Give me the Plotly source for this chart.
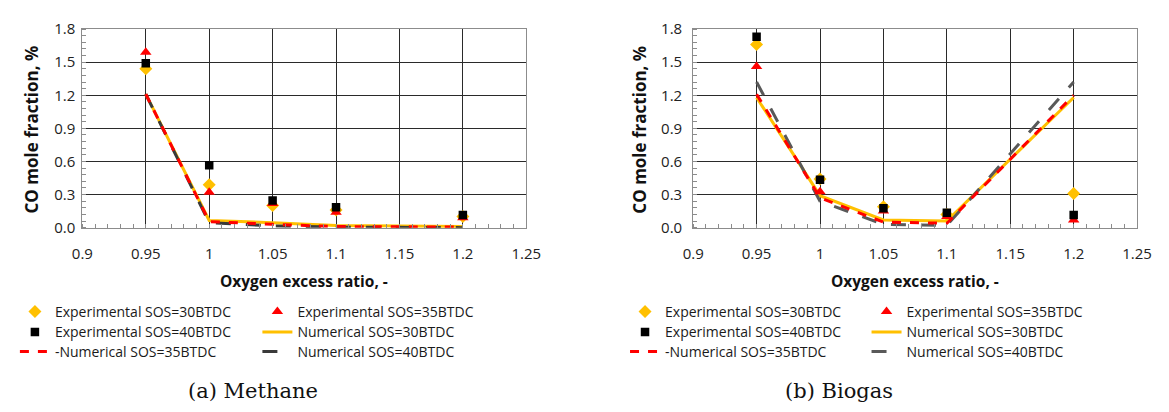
import plotly.graph_objects as go

x = [0.95, 1.0, 1.05, 1.1, 1.2]

# Methane
m_exp30 = [1.44, 0.39, 0.20, 0.16, 0.10]
m_exp35 = [1.59, 0.32, 0.22, 0.14, 0.09]
m_exp40 = [1.49, 0.565, 0.245, 0.185, 0.115]
m_num30 = [1.21, 0.065, 0.045, 0.02, 0.01]
m_num35 = [1.21, 0.055, 0.03, 0.01, 0.005]
m_num40 = [1.21, 0.045, 0.015, 0.005, 0.0]

# Biogas
b_exp30 = [1.66, 0.44, 0.19, 0.12, 0.31]
b_exp35 = [1.46, 0.325, 0.15, 0.10, 0.07]
b_exp40 = [1.73, 0.435, 0.175, 0.135, 0.115]
b_num30 = [1.18, 0.29, 0.07, 0.06, 1.18]
b_num35 = [1.21, 0.27, 0.05, 0.04, 1.20]
b_num40 = [1.32, 0.24, 0.03, 0.02, 1.32]

names = ["Experimental SOS=30BTDC", "Experimental SOS=35BTDC", "Experimental SOS=40BTDC",
         "Numerical SOS=30BTDC", "-Numerical SOS=35BTDC", "Numerical SOS=40BTDC"]

xticks = [0.9, 0.95, 1.0, 1.05, 1.1, 1.15, 1.2, 1.25]
xticklabels = ["0.9", "0.95", "1", "1.05", "1.1", "1.15", "1.2", "1.25"]
yticks = [0.0, 0.3, 0.6, 0.9, 1.2, 1.5, 1.8]
yticklabels = ["0.0", "0.3", "0.6", "0.9", "1.2", "1.5", "1.8"]

GOLD = "#FFC000"
RED = "#FF0000"
BLACK = "#000000"
GRAY = "#595959"
FONT = "Open Sans"
W, H = 1169, 412

fig = go.Figure()

def add_panel(xa, ya, exp30, exp35, exp40, num30, num35, num40, lg, num40_color):
    # lg: legend ids in order Exp30, Exp35, Exp40, Num30, Num35, Num40
    fig.add_trace(go.Scatter(x=x, y=num30, mode="lines", name=names[3], xaxis=xa, yaxis=ya,
                             line=dict(color=GOLD, width=3), legend=lg[3]))
    fig.add_trace(go.Scatter(x=x, y=num40, mode="lines", name=names[5], xaxis=xa, yaxis=ya,
                             line=dict(color=num40_color, width=3, dash="longdash"), legend=lg[5]))
    fig.add_trace(go.Scatter(x=x, y=num35, mode="lines", name=names[4], xaxis=xa, yaxis=ya,
                             line=dict(color=RED, width=3, dash="dash"), legend=lg[4]))
    fig.add_trace(go.Scatter(x=x, y=exp30, mode="markers", name=names[0], xaxis=xa, yaxis=ya,
                             marker=dict(symbol="diamond", color=GOLD, size=10), legend=lg[0]))
    fig.add_trace(go.Scatter(x=x, y=exp35, mode="markers", name=names[1], xaxis=xa, yaxis=ya,
                             marker=dict(symbol="triangle-up", color=RED, size=10), legend=lg[1]))
    fig.add_trace(go.Scatter(x=x, y=exp40, mode="markers", name=names[2], xaxis=xa, yaxis=ya,
                             marker=dict(symbol="square", color=BLACK, size=8.5), legend=lg[2]))

left_lg = ["legend", "legend2", "legend3", "legend4", "legend5", "legend6"]
right_lg = ["legend7", "legend8", "legend9", "legend10", "legend11", "legend12"]
add_panel("x", "y", m_exp30, m_exp35, m_exp40, m_num30, m_num35, m_num40, left_lg, "#3a3a3a")
add_panel("x2", "y2", b_exp30, b_exp35, b_exp40, b_num30, b_num35, b_num40, right_lg, GRAY)

ydom = [1 - 227.7 / H, 1 - 19 / H]

def xaxis_cfg(dom, anchor):
    return dict(domain=dom, anchor=anchor, range=[0.9, 1.25], tickvals=xticks, ticktext=xticklabels,
                showgrid=True, gridcolor="#2a2a2a", gridwidth=1, zeroline=False,
                showline=True, linecolor="#8c8c8c", linewidth=1, mirror=True,
                ticks="", ticklabelstandoff=12, tickfont=dict(family=FONT, size=15, color="#222"),
                minor=dict(dtick=0.01, ticks="inside", ticklen=4, tickcolor="#8c8c8c", showgrid=False))

def yaxis_cfg(anchor, standoff):
    return dict(domain=ydom, anchor=anchor, range=[0, 1.8], tickvals=yticks, ticktext=yticklabels,
                showgrid=True, gridcolor="#2a2a2a", gridwidth=1, zeroline=False,
                showline=True, linecolor="#8c8c8c", linewidth=1, mirror=True,
                ticks="", ticklabelstandoff=standoff, tickfont=dict(family=FONT, size=15, color="#222"),
                minor=dict(dtick=0.06, ticks="inside", ticklen=4, tickcolor="#8c8c8c", showgrid=False))

legend_common = dict(orientation="v", bgcolor="rgba(0,0,0,0)", font=dict(family=FONT, size=14, color="#1a1a1a"),
                     itemwidth=30, xanchor="left", yanchor="top", itemclick=False, itemdoubleclick=False)

col_x = {"L1": 4, "L2": 252, "R1": 628, "R2": 875}
row_y = [299.5, 321, 341.5]
layout_legends = {}
grid = [("L1", 0), ("L2", 0), ("L1", 1), ("L2", 1), ("L1", 2), ("L2", 2)]
for ids, side in ((left_lg, "L"), (right_lg, "R")):
    for lid, (c, r) in zip(ids, grid):
        col = side + c[1]
        layout_legends[lid] = dict(x=col_x[col] / W, y=1 - row_y[r] / H, **legend_common)

title_font = dict(family=FONT, size=17, color="#111")
xtitle_font = dict(family=FONT, size=15.5, color="#111")
cap_font = dict(family="DejaVu Serif", size=21, color="#111")
fig.update_layout(
    width=W, height=H, margin=dict(l=0, r=0, t=0, b=0),
    paper_bgcolor="white", plot_bgcolor="white",
    xaxis=xaxis_cfg([73 / W, 527 / W], "y"),
    yaxis=yaxis_cfg("x", 3),
    xaxis2=xaxis_cfg([697.7 / W, 1151.7 / W], "y2"),
    yaxis2=yaxis_cfg("x2", 7),
    showlegend=True,
    annotations=[
        dict(text="<b>Oxygen excess ratio, -</b>", x=300 / W, y=1 - 284 / H, xref="paper", yref="paper",
             showarrow=False, xanchor="center", yanchor="middle", font=xtitle_font),
        dict(text="<b>Oxygen excess ratio, -</b>", x=924.7 / W, y=1 - 284 / H, xref="paper", yref="paper",
             showarrow=False, xanchor="center", yanchor="middle", font=xtitle_font),
        dict(text="<b>CO mole fraction, %</b>", x=21 / W, y=1 - 125 / H, xref="paper", yref="paper",
             showarrow=False, xanchor="center", yanchor="middle", textangle=-90, font=title_font),
        dict(text="<b>CO mole fraction, %</b>", x=643 / W, y=1 - 125 / H, xref="paper", yref="paper",
             showarrow=False, xanchor="center", yanchor="middle", textangle=-90, font=title_font),
        dict(text="(a) Methane", x=248 / W, y=1 - 399 / H, xref="paper", yref="paper", showarrow=False,
             xanchor="center", yanchor="middle", font=cap_font),
        dict(text="(b) Biogas", x=847 / W, y=1 - 399 / H, xref="paper", yref="paper", showarrow=False,
             xanchor="center", yanchor="middle", font=cap_font),
    ],
    **layout_legends,
)

fig.write_html("out.html")
